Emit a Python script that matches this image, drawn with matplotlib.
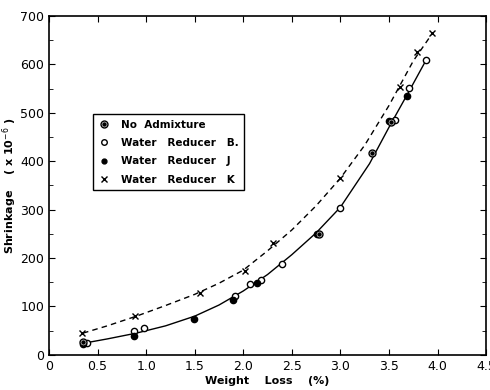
import matplotlib.pyplot as plt
from matplotlib.ticker import MultipleLocator

# data
none_x = [0.35, 2.78, 3.33, 3.52]
none_y = [27, 249, 418, 481]

b_x = [0.39, 0.88, 0.98, 1.91, 2.07, 2.18, 2.40, 3.00, 3.56, 3.71, 3.88]
b_y = [24, 50, 56, 122, 147, 155, 188, 304, 485, 551, 609]

j_x = [0.35, 0.87, 1.49, 1.89, 2.14, 2.76, 3.50, 3.69]
j_y = [22, 39, 74, 114, 149, 250, 484, 535]

k_x = [0.34, 0.89, 1.55, 2.02, 2.31, 3.00, 3.61, 3.79, 3.94]
k_y = [45, 80, 128, 173, 231, 366, 553, 626, 665]

# fitted curves as drawn
solid_x = [0.38, 0.6, 0.9, 1.2, 1.5, 1.75, 2.0, 2.25, 2.5, 2.75, 3.0, 3.3, 3.5, 3.7, 3.88]
solid_y = [25, 33, 45, 60, 80, 103, 132, 166, 207, 252, 305, 395, 470, 542, 608]
dash_x = [0.35, 0.6, 0.9, 1.2, 1.5, 1.75, 2.0, 2.25, 2.5, 2.75, 3.0, 3.25, 3.5, 3.75, 3.95]
dash_y = [45, 60, 80, 102, 125, 148, 175, 215, 258, 308, 365, 433, 515, 607, 665]

fig = plt.figure(figsize=(4.9, 3.9), dpi=100)
ax = fig.add_axes([0.1, 0.09, 0.892, 0.869])

ax.plot(solid_x, solid_y, color='black', lw=1.0)
ax.plot(dash_x, dash_y, color='black', lw=1.0, ls=(0, (4, 3)))

ax.plot(b_x, b_y, 'o', ms=4.5, mfc='white', mec='black', mew=1.0, ls='none')
ax.plot(j_x, j_y, 'o', ms=4.5, mfc='black', mec='black', ls='none')
ax.plot(k_x, k_y, 'x', ms=4, mec='black', mew=1.0, ls='none')
ax.plot(none_x, none_y, 'o', ms=5, mfc='white', mec='black', mew=1.0, ls='none')
ax.plot(none_x, none_y, 'o', ms=2.2, mfc='black', mec='black', ls='none')

# legend drawn by hand-built handles
h_none = (plt.Line2D([], [], marker='o', ms=5, mfc='white', mec='black', ls='none'),
          plt.Line2D([], [], marker='o', ms=2.2, mfc='black', mec='black', ls='none'))
h_b = plt.Line2D([], [], marker='o', ms=4, mfc='white', mec='black', ls='none')
h_j = plt.Line2D([], [], marker='o', ms=3.5, mfc='black', mec='black', ls='none')
h_k = plt.Line2D([], [], marker='x', ms=4, mec='black', ls='none')
leg = ax.legend([h_none, h_b, h_j, h_k],
                ['No  Admixture', 'Water   Reducer   B.', 'Water   Reducer   J',
                 'Water   Reducer   K'],
                loc='upper left', bbox_to_anchor=(0.088, 0.725), fancybox=False,
                edgecolor='black', framealpha=1, handlelength=1.2,
                labelspacing=0.8, borderpad=0.5, handletextpad=1.0,
                prop={'weight': 'bold', 'size': 7.5})
leg.get_frame().set_linewidth(1.0)

ax.set_xlim(0, 4.5)
ax.set_ylim(0, 700)
ax.yaxis.set_major_locator(MultipleLocator(100))
ax.yaxis.set_minor_locator(MultipleLocator(50))
ax.set_xticks([0, 0.5, 1.0, 1.5, 2.0, 2.5, 3.0, 3.5, 4.0, 4.5])
ax.set_xticklabels(['0', '0.5', '1.0', '1.5', '2.0', '2.5', '3.0', '3.5', '4.0', '4.5'])
ax.tick_params(which='both', direction='in', top=True, right=True, labelsize=9)
ax.tick_params(which='major', length=4)
ax.tick_params(which='minor', length=3)
for s in ax.spines.values():
    s.set_linewidth(1.2)

ax.set_xlabel('Weight    Loss    (%)', fontsize=8, fontweight='bold', labelpad=2)
ax.set_ylabel(r'Shrinkage    ( x 10$^{-6}$ )', fontsize=8, fontweight='bold', labelpad=1)

fig.savefig('out.png', dpi=100)
